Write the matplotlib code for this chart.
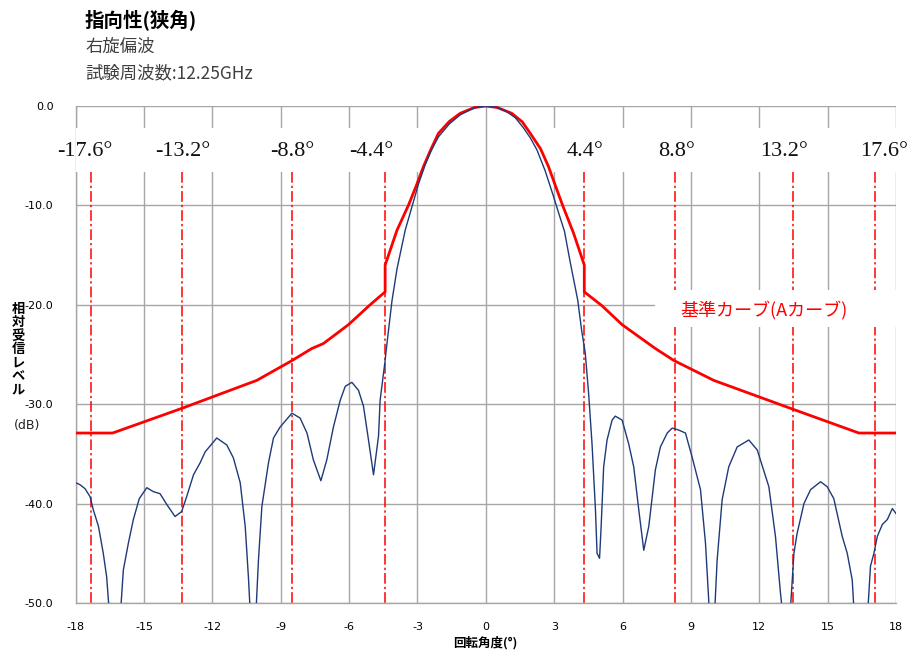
import matplotlib
matplotlib.use("Agg")
import matplotlib.pyplot as plt
from matplotlib.patches import Rectangle

# ---------------- data ----------------
meas_x = [-18.0, -17.81, -17.59, -17.37, -17.23, -17.0, -16.79, -16.64, -16.54, -16.3, -16.02,
          -15.91, -15.69, -15.47, -15.21, -14.88, -14.59, -14.30, -14.0, -13.64, -13.35,
          -13.13, -12.83, -12.54, -12.32, -11.81, -11.37, -11.08, -10.78, -10.56, -10.42,
          -10.35, -10.22, -10.08, -9.98, -9.83, -9.54, -9.32, -9.03, -8.51, -8.15, -7.85,
          -7.57, -7.24, -6.98, -6.69, -6.39, -6.17, -5.88, -5.59, -5.37, -5.15, -4.93,
          -4.71, -4.64, -4.42, -4.37, -4.12, -3.90, -3.54, -3.24, -2.95, -2.66, -2.4,
          -2.08, -1.6, -1.13, -0.6, -0.25, 0.0,
          0.25, 0.5, 0.92, 1.3, 1.65, 1.95, 2.24, 2.6, 2.97, 3.2, 3.45, 3.71, 4.03, 4.2,
          4.36, 4.51, 4.66, 4.81, 4.88,
          4.99, 5.06, 5.17, 5.32, 5.54, 5.68, 5.98, 6.27, 6.49, 6.71, 6.93, 7.15, 7.44,
          7.66, 7.96, 8.18, 8.46, 8.76, 9.05, 9.42, 9.64, 9.80, 9.92, 10.05, 10.15, 10.37,
          10.66, 11.03, 11.54, 11.91, 12.42, 12.71, 12.93, 13.0, 13.2, 13.37, 13.52, 13.66,
          13.96, 14.25, 14.69, 14.98, 15.27, 15.64, 15.86, 16.08, 16.15, 16.45, 16.77,
          16.88, 17.03, 17.18, 17.40, 17.62, 17.84, 18.0]
meas_y = [-37.9, -38.1, -38.5, -39.3, -40.6, -42.3, -45.0, -47.4, -50.5, -55.0, -50.5,
          -46.7, -44.0, -41.6, -39.5, -38.4, -38.8, -39.0, -40.1, -41.3, -40.8,
          -39.3, -37.1, -35.9, -34.8, -33.4, -34.1, -35.4, -37.9, -42.3, -47.4,
          -50.5, -55.0, -50.5, -45.7, -40.3, -35.9, -33.4, -32.3, -30.9, -31.4, -32.9,
          -35.6, -37.7, -35.6, -32.3, -29.6, -28.2, -27.8, -28.6, -30.2, -33.6, -37.1,
          -33.2, -29.6, -25.6, -24.5, -19.6, -16.4, -12.5, -10.1, -7.8, -5.9, -4.5,
          -3.1, -1.8, -0.9, -0.28, -0.05, 0.0,
          -0.04, -0.15, -0.57, -1.2, -2.2, -3.2, -4.4, -6.5, -9.1, -10.8, -12.6, -15.8, -19.5, -22.5,
          -24.8, -28.9, -34.0, -40.6, -45.0,
          -45.5, -42.3, -36.3, -33.6, -31.6, -31.2, -31.6, -34.0, -36.3, -40.6, -44.7, -42.3, -36.6,
          -34.3, -32.9, -32.4, -32.6, -32.9, -35.3, -38.6, -44.0, -50.5, -53.0, -50.5, -45.7, -39.6,
          -36.3, -34.3, -33.6, -34.6, -38.3, -43.3, -49.0, -50.5, -55.0, -50.5, -45.0, -43.0,
          -40.0, -38.6, -37.8, -38.3, -39.5, -43.3, -45.0, -47.7, -50.5, -55.0, -50.5,
          -46.3, -45.0, -43.3, -42.1, -41.6, -40.5, -41.0]

ref_x = [-18.0, -16.38, -13.32, -10.05, -8.5, -7.64, -7.13, -6.03, -5.08, -4.42, -4.42,
         -3.9, -3.4, -3.05, -2.74, -2.4, -2.08, -1.6, -1.13, -0.5, 0.0,
         0.5, 1.14, 1.6, 1.95, 2.4, 2.75, 3.05, 3.37, 3.85, 4.32, 4.32, 5.1, 5.98, 7.44,
         8.25, 10.0, 13.47, 16.37, 18.0]
ref_y = [-32.9, -32.9, -30.4, -27.6, -25.6, -24.4, -23.9, -22.0, -20.0, -18.7, -16.0,
         -12.5, -10.0, -8.0, -6.1, -4.3, -2.75, -1.55, -0.74, -0.15, 0.0,
         -0.15, -0.74, -1.6, -2.75, -4.3, -6.1, -8.0, -10.0, -12.8, -16.0, -18.7, -20.1, -22.0, -24.4,
         -25.6, -27.6, -30.5, -32.9, -32.9]

mark_x = [-17.33, -13.32, -8.49, -4.42, 4.32, 8.32, 13.47, 17.1]
mark_labels = ["-17.6°", "-13.2°", "-8.8°", "-4.4°", "4.4°", "8.8°", "13.2°", "17.6°"]

x_ticks = [-18, -15, -12, -9, -6, -3, 0, 3, 6, 9, 12, 15, 18]
y_ticks = [0, -10, -20, -30, -40, -50]

# ---------------- layout ----------------
label_x = [-17.61, -13.31, -8.48, -5.05, 4.35, 8.36, 13.08, 17.5]

plt.rcParams['font.family'] = ['DejaVu Sans']
JP = ['Noto Sans CJK JP', 'DejaVu Sans']
SERIF = ['Liberation Serif', 'DejaVu Serif']

fig = plt.figure(figsize=(9.10, 6.51), dpi=100)
ax = fig.add_axes([75.7 / 910, 1 - 603 / 651, (896 - 75.7) / 910, (603 - 106) / 651])
ax.set_xlim(-18, 18)
ax.set_ylim(-50, 0)

grid_c = '#a6a6a6'
ax.set_xticks(x_ticks)
ax.set_yticks(y_ticks)
ax.set_xticklabels([str(v) for v in x_ticks], fontsize=8)
ax.set_yticklabels(["%.1f" % v for v in y_ticks], fontsize=8)
ax.tick_params(length=0, pad=14)
ax.tick_params(axis='y', pad=16)
ax.grid(True, color=grid_c, linewidth=1.0, zorder=0)
ax.set_axisbelow(True)
for s in ['top', 'right']:
    ax.spines[s].set_visible(False)
for s in ['left', 'bottom']:
    ax.spines[s].set_color(grid_c)
    ax.spines[s].set_linewidth(1.0)

# marker lines
for xv in mark_x:
    ax.plot([xv, xv], [-6.6, -50], color='#ff0000', linewidth=1.1,
            dashes=(7, 2, 1.5, 2), zorder=2, clip_on=False)

# white label boxes
ax.add_patch(Rectangle((-18, -6.65), 16.6, 4.45, facecolor='white', edgecolor='none',
                       zorder=3, clip_on=False))
ax.add_patch(Rectangle((1.4, -6.65), 17.4, 4.45, facecolor='white', edgecolor='none',
                       zorder=3, clip_on=False))
ax.add_patch(Rectangle((7.44, -22.2), 10.56, 3.7, facecolor='white', edgecolor='none',
                       zorder=3, clip_on=False))

for lx, lab in zip(label_x, mark_labels):
    ax.text(lx, -4.6, lab, ha='center', va='center', fontsize=16, family=SERIF,
            color='#111111', zorder=6, clip_on=False)

# curves
ax.plot(meas_x, meas_y, color='#1f3a78', linewidth=1.0, zorder=5)
ax.plot(ref_x, ref_y, color='#ff0000', linewidth=2.0, zorder=4)

ax.text(12.2, -20.6, "基準カーブ(Aカーブ)", color='#ff0000', fontsize=13,
        family=JP, ha='center', va='center', zorder=6)

# axis labels
fig.text(485 / 910, 1 - 643 / 651, "回転角度(°)", ha='center', va='center',
         fontsize=9, fontweight='bold', family=JP)
fig.text(18 / 910, 1 - 349 / 651, "\n".join("相対受信レベル"), ha='center', va='center',
         fontsize=9.5, fontweight='bold', family=JP, linespacing=0.95)
fig.text(27 / 910, 1 - 425 / 651, "(dB)", ha='center', va='center', fontsize=9,
         color='#222222')

# titles
fig.text(85 / 910, 1 - 21 / 651, "指向性(狭角)", ha='left', va='center', fontsize=14,
         fontweight='bold', family=JP)
fig.text(85 / 910, 1 - 47 / 651, "右旋偏波", ha='left', va='center', fontsize=12.5,
         family=JP, color='#404040')
fig.text(85 / 910, 1 - 73 / 651, "試験周波数:12.25GHz", ha='left', va='center',
         fontsize=12.5, family=JP, color='#404040')

fig.savefig("out.png", dpi=100)
